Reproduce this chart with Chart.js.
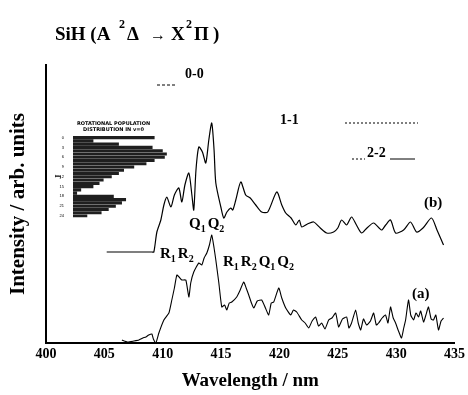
<!DOCTYPE html>
<html>
<head>
<meta charset="utf-8">
<script src="https://cdn.jsdelivr.net/npm/chart.js@4.4.1/dist/chart.umd.min.js"></script>
<style>
  body { margin: 0; background: #fff; }
  #wrap { position: relative; width: 468px; height: 395px; }
  #main { position: absolute; left: 0; top: 0; }
  #inset { position: absolute; left: 52px; top: 121px; }
</style>
</head>
<body>
<div id="wrap">
  <canvas id="main" width="468" height="395"></canvas>
  <canvas id="inset" width="125" height="100"></canvas>
</div>
<script>
// spectrum (b): wavelength / intensity (arb.)
const wlB = [405.2, 409.07, 409.24, 409.5, 409.84, 410.1, 410.35, 410.7, 411.0, 411.38, 411.64, 411.9, 412.24, 412.5, 412.66,
  412.85, 413.09, 413.4, 413.69, 413.95, 414.2, 414.4, 414.55, 414.98, 415.23, 415.5, 415.83, 416.0, 416.26, 416.69, 417.11,
  417.5, 417.97, 418.48, 419.0, 419.77, 420.2, 420.54, 421.0, 421.4, 421.7, 421.91, 422.4, 422.93, 423.5, 424.05, 424.64,
  425.0, 425.33, 425.76, 426.18, 426.6, 427.04, 427.5, 428.07, 428.75, 429.1, 429.52, 429.95, 430.64, 431.23, 431.75,
  432.3, 433.03, 433.5, 434.06];
const intB = [91, 91, 91, 111, 123, 138, 146, 136, 148, 155, 141, 158, 170, 148, 133,
  173, 196, 191, 180, 203, 220, 193, 160, 136, 125, 131, 135, 133, 143, 161, 148,
  145, 138, 131, 131, 151, 138, 130, 125, 118, 123, 116, 119, 121, 115, 110, 111,
  115, 123, 118, 126, 118, 110, 115, 120, 113, 118, 123, 110, 113, 121, 111,
  115, 125, 113, 98];

// spectrum (a)
const wlA = [406.5, 407.0, 407.53, 407.96, 408.3, 408.56, 408.8, 409.07, 409.2, 409.41, 409.67, 410.1, 410.53, 410.78, 411.0,
  411.21, 411.4, 411.64, 411.98, 412.24, 412.4, 412.66, 413.09, 413.35, 413.55, 413.78, 414.0, 414.2, 414.4, 414.55, 414.81,
  415.06, 415.3, 415.49, 415.7, 415.92, 416.34, 416.6, 416.94, 417.15, 417.37, 417.6, 417.8, 418.1, 418.48, 418.8, 419.08,
  419.3, 419.51, 419.94, 420.2, 420.54, 420.97, 421.2, 421.48, 421.91, 422.2, 422.51, 422.8, 423.1, 423.35, 423.62, 423.9,
  424.22, 424.5, 424.82, 425.07, 425.4, 425.76, 425.95, 426.18, 426.53, 426.75, 426.96, 427.2, 427.47, 427.8, 428.07, 428.3,
  428.5, 428.8, 429.09, 429.3, 429.52, 429.75, 429.95, 430.2, 430.46, 430.65, 430.81, 431.06, 431.25, 431.49, 431.7, 431.92,
  432.1, 432.35, 432.55, 432.77, 433.0, 433.2, 433.4, 433.63, 433.85, 434.06];
const intA = [3, 1, 2, 3, 5, 6, 8, 9, 4, 0, 10, 23, 30, 43, 55,
  68, 66, 63, 63, 46, 60, 71, 80, 78, 85, 90, 98, 108, 95, 83, 60,
  36, 38, 33, 40, 41, 46, 52, 61, 55, 48, 40, 35, 42, 43, 35, 28,
  40, 41, 55, 45, 35, 28, 33, 31, 23, 20, 15, 22, 26, 17, 20, 14,
  23, 25, 30, 16, 24, 26, 15, 20, 33, 20, 13, 24, 18, 22, 30, 18,
  20, 25, 28, 20, 36, 25, 20, 12, 5, 15, 23, 43, 28, 23, 30, 26,
  32, 21, 28, 36, 24, 23, 28, 13, 22, 25];

// inset: rotational population, v=0
const jLevels = [0, 1, 2, 3, 4, 5, 6, 7, 8, 9, 10, 11, 12, 13, 14, 15, 16, 17, 18, 19, 20, 21, 22, 23, 24];
const jPop = [80, 20, 45, 78, 88, 92, 90, 80, 72, 60, 50, 45, 38, 30, 26, 20, 8, 4, 40, 52, 48, 42, 35, 28, 14];

const xTicks = [400, 405, 410, 415, 420, 425, 430, 435];

const serif = '"Liberation Serif", "Times New Roman", serif';

function pts(xs, ys) { return xs.map((x, i) => ({ x, y: ys[i] })); }

// text labels drawn on top of the spectrum
const labelPlugin = {
  id: 'labels',
  afterDraw(chart) {
    const c = chart.ctx;
    c.save();
    c.fillStyle = '#000';
    c.textBaseline = 'alphabetic';
    // title, piece by piece
    const big = 'bold 19px ' + serif, sup = 'bold 12px ' + serif;
    [['SiH (A', 55, 40, big], ['2', 119, 28, sup], ['Δ', 127, 40, big], ['→', 150, 40, 'bold 16px ' + serif],
     ['X', 171, 40, big], ['2', 186, 28, sup], ['Π', 194, 40, big], [')', 213, 40, big]].forEach(([t, x, y, f]) => {
      c.font = f;
      c.fillText(t, x, y);
    });

    // sub-scripted branch labels
    function branch(items, x0, y0) {
      let xx = x0;
      items.forEach(([b, n]) => {
        c.font = 'bold 15px ' + serif;
        c.fillText(b, xx, y0);
        xx += c.measureText(b).width;
        c.font = 'bold 10px ' + serif;
        c.fillText(n, xx, y0 + 4);
        xx += c.measureText(n).width + 2;
      });
    }
    branch([['Q', '1'], ['Q', '2']], 189, 228);
    branch([['R', '1'], ['R', '2']], 160, 258);
    branch([['R', '1'], ['R', '2'], ['Q', '1'], ['Q', '2']], 223, 266);

    c.font = 'bold 14px ' + serif;
    c.fillText('0-0', 185, 78);
    c.fillText('1-1', 280, 124);
    c.fillText('2-2', 367, 157);
    c.font = 'bold 15px ' + serif;
    c.fillText('(b)', 424, 207);
    c.fillText('(a)', 412, 298);

    // band-head marker lines
    c.strokeStyle = '#000';
    c.lineWidth = 1;
    c.setLineDash([3, 2]);
    c.beginPath(); c.moveTo(157, 85); c.lineTo(175, 85); c.stroke();
    c.setLineDash([2, 2]);
    c.beginPath(); c.moveTo(345, 123); c.lineTo(418, 123); c.stroke();
    c.beginPath(); c.moveTo(352, 159); c.lineTo(365, 159); c.stroke();
    c.setLineDash([]);
    c.beginPath(); c.moveTo(390, 159); c.lineTo(415, 159); c.stroke();
    c.restore();
  }
};

new Chart(document.getElementById('main'), {
  type: 'line',
  data: {
    datasets: [
      { label: '(b)', data: pts(wlB, intB), borderColor: '#000', borderWidth: 1.2, pointRadius: 0, tension: 0.25 },
      { label: '(a)', data: pts(wlA, intA), borderColor: '#000', borderWidth: 1.1, pointRadius: 0, tension: 0.15 },
    ],
  },
  options: {
    responsive: false, animation: false,
    layout: { padding: { left: 0, right: 10, top: 65, bottom: 0 } },
    plugins: { legend: { display: false }, tooltip: { enabled: false } },
    scales: {
      x: {
        type: 'linear', min: 400, max: 435,
        afterBuildTicks: s => { s.ticks = xTicks.map(v => ({ value: v })); },
        afterFit: s => { s.height = 52; },
        grid: { display: false, drawTicks: false },
        border: { display: true, color: '#000', width: 2 },
        ticks: { color: '#000', font: { family: serif, size: 14, weight: 'bold' }, padding: 3, maxRotation: 0 },
        title: { display: true, text: 'Wavelength / nm', color: '#000', font: { family: serif, size: 19, weight: 'bold' }, padding: { top: 4, bottom: 3 } },
      },
      y: {
        min: 0, max: 278,
        afterFit: s => { s.width = 46; },
        grid: { display: false, drawTicks: false },
        border: { display: true, color: '#000', width: 2 },
        ticks: { display: false },
        title: { display: true, text: 'Intensity / arb. units', color: '#000', font: { family: serif, size: 21, weight: 'bold' }, padding: { top: 6, bottom: 0 } },
      },
    },
  },
  plugins: [labelPlugin],
});

new Chart(document.getElementById('inset'), {
  type: 'bar',
  data: {
    labels: jLevels,
    datasets: [{ data: jPop, backgroundColor: 'rgba(0,0,0,0.88)', barPercentage: 1, categoryPercentage: 0.95 }],
  },
  options: {
    indexAxis: 'y', responsive: false, animation: false,
    layout: { padding: { top: 0, right: 2 } },
    plugins: {
      legend: { display: false }, tooltip: { enabled: false },
      title: { display: true, text: ['ROTATIONAL POPULATION', 'DISTRIBUTION IN v=0'], color: '#000', font: { family: 'DejaVu Sans', size: 5, weight: 'bold' }, padding: { top: 0, bottom: 3 } },
    },
    scales: {
      x: { display: false, min: 0, max: 100 },
      y: {
        afterFit: s => { s.width = 21; },
        grid: { display: false },
        border: { display: false },
        ticks: { color: '#000', font: { size: 4 }, padding: 1, autoSkip: false, callback: (v, i) => (i % 3 === 0 ? jLevels[i] : '') },
        title: { display: true, text: 'J', color: '#000', font: { family: serif, size: 9, weight: 'bold' }, padding: 1 },
      },
    },
  },
});
</script>
</body>
</html>
